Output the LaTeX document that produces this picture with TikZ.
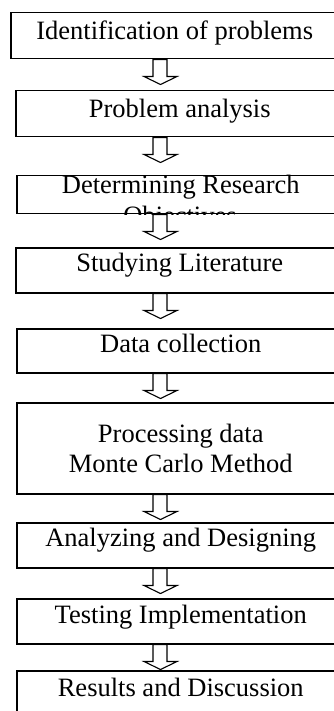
\documentclass[tikz,border=0pt]{standalone}
\usepackage{fontspec}
\setmainfont{Liberation Serif}
\usetikzlibrary{calc}
\newcommand{\blockdown}[1]{%
  \draw[blk] ($(#1.south -| ax)+(-7.5,0)$) -- ++(0,17) -- ++(-9,0) -- ++(16.5,8)
    coordinate (#1tip) -- ++(16.5,-8) -- ++(-10,0) -- ++(0,-17) -- cycle;}
\begin{document}
\begin{tikzpicture}[x=1pt,y=-1pt,
  box/.style={draw, line width=1.5pt, inner sep=0pt, minimum width=328pt,
    font=\fontsize{26.5}{30.5}\selectfont, anchor=north west},
  txt/.style={inner sep=0pt, font=\fontsize{26.5}{30.5}\selectfont, anchor=base},
  blk/.style={draw, line width=1.1pt, line join=miter}]
\useasboundingbox (0,0) rectangle (334,711);
\clip (0,0) rectangle (334,711);
\coordinate (ax) at (160.5,0);
\node[box, text height=27pt, text depth=19pt] (b1) at (10,12) {Identification of problems};
\node[box, text height=27pt, text depth=19pt] (b2) at (15,90) {Problem analysis};
\node[box, text height=18pt, text depth=20pt] (b3) at (16,175) {Determining Research};
\begin{scope}
  \clip (b3.south west) rectangle (b3.north east);
  \node[txt] (b3x) at (180,224) {Objectives};
\end{scope}
\node[box, text height=24pt, text depth=21pt] (b4) at (15,247) {Studying Literature};
\node[box, text height=24pt, text depth=20pt] (b5) at (16,328) {Data collection};
\node[box, minimum height=91pt, align=center] (b6) at (16,402) {Processing data\\Monte Carlo Method};
\node[box, text height=24pt, text depth=21pt] (b7) at (16,522) {Analyzing and Designing};
\node[box, text height=25pt, text depth=20pt] (b8) at (16,598) {Testing Implementation};
\node[box, text height=26pt, text depth=20pt] (b9) at (16,670) {Results and Discussion};
\blockdown{b1}
\blockdown{b2}
\blockdown{b3}
\blockdown{b4}
\blockdown{b5}
\blockdown{b6}
\blockdown{b7}
\blockdown{b8}
\end{tikzpicture}
\end{document}
